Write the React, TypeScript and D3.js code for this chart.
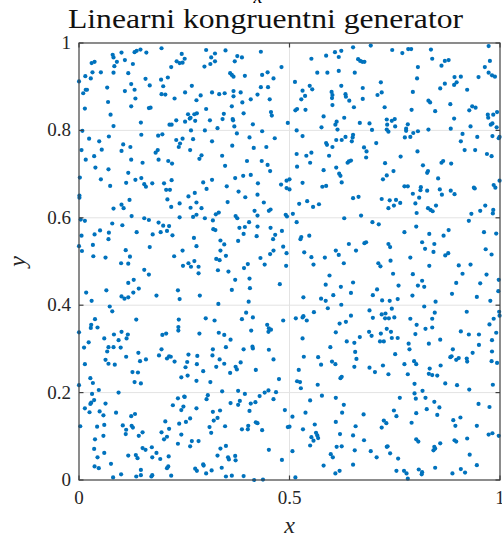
import React, { useEffect, useRef } from 'react';
import * as d3 from 'd3';

const W = 502;
const H = 539;
const margin = { top: 43, right: 2, bottom: 59, left: 79 };

const xTicks = [0, 0.5, 1];
const yTicks = [0, 0.2, 0.4, 0.6, 0.8, 1];
const titleText = 'Linearni kongruentni generator';
const xLabel = 'x';
const yLabel = 'y';

// points, upper third (y > ~0.67)
const upperPoints: [number, number][] = [
  [0.080,0.973],[0.082,0.967],[0.101,0.978],[0.132,0.979],[0.137,0.982],[0.146,0.985],[0.160,0.978],[0.196,0.988],[0.244,0.975],
  [0.030,0.954],[0.037,0.957],[0.090,0.957],[0.109,0.961],[0.084,0.947],[0.128,0.952],[0.232,0.958],[0.239,0.954],[0.246,0.955],
  [0.251,0.964],[0.219,0.945],[0.032,0.933],[0.052,0.933],[0.082,0.932],[0.117,0.931],[0.015,0.924],[0.028,0.919],[0.000,0.912],
  [0.158,0.918],[0.195,0.916],[0.211,0.921],[0.124,0.906],[0.168,0.903],[0.200,0.901],[0.067,0.898],[0.016,0.893],[0.019,0.893],
  [0.109,0.890],[0.132,0.893],[0.010,0.885],[0.196,0.883],[0.205,0.882],[0.252,0.887],[0.134,0.873],[0.227,0.873],[0.069,0.865],
  [0.124,0.855],[0.014,0.850],[0.166,0.851],[0.170,0.852],[0.075,0.836],[0.231,0.823],[0.252,0.820],[0.147,0.818],[0.215,0.813],
  [0.220,0.813],[0.082,0.810],[0.008,0.799],[0.071,0.786],[0.148,0.790],[0.188,0.788],[0.198,0.791],[0.024,0.781],[0.048,0.775],
  [0.231,0.778],[0.246,0.781],[0.240,0.770],[0.237,0.762],[0.105,0.768],[0.122,0.762],[0.006,0.755],[0.054,0.756],[0.101,0.753],
  [0.187,0.755],[0.182,0.749],[0.036,0.741],[0.016,0.733],[0.124,0.733],[0.189,0.733],[0.151,0.726],[0.212,0.730],[0.221,0.724],
  [0.039,0.715],[0.070,0.711],[0.117,0.703],[0.002,0.692],[0.052,0.688],[0.148,0.691],[0.134,0.687],[0.220,0.686],[0.112,0.680],
  [0.155,0.677],[0.174,0.679],[0.202,0.679],[0.074,0.673],[0.159,0.671],
  [0.302,0.984],[0.348,0.983],[0.323,0.976],[0.314,0.967],[0.376,0.970],[0.387,0.967],[0.432,0.980],[0.323,0.958],[0.312,0.952],
  [0.370,0.958],[0.298,0.946],[0.481,0.945],[0.359,0.931],[0.363,0.927],[0.367,0.923],[0.394,0.925],[0.435,0.927],[0.448,0.933],
  [0.462,0.919],[0.268,0.902],[0.432,0.899],[0.449,0.899],[0.316,0.887],[0.333,0.883],[0.346,0.885],[0.367,0.890],[0.367,0.878],
  [0.384,0.887],[0.289,0.880],[0.279,0.869],[0.408,0.871],[0.388,0.864],[0.453,0.871],[0.424,0.882],[0.363,0.855],[0.302,0.849],
  [0.456,0.842],[0.458,0.834],[0.259,0.837],[0.263,0.827],[0.265,0.829],[0.274,0.837],[0.280,0.839],[0.276,0.822],[0.344,0.838],
  [0.341,0.826],[0.365,0.826],[0.366,0.823],[0.391,0.839],[0.413,0.814],[0.311,0.823],[0.369,0.809],[0.329,0.805],[0.299,0.800],
  [0.266,0.800],[0.435,0.798],[0.496,0.817],[0.375,0.793],[0.271,0.780],[0.316,0.775],[0.405,0.784],[0.465,0.782],[0.364,0.765],
  [0.415,0.760],[0.445,0.762],[0.264,0.755],[0.291,0.743],[0.286,0.735],[0.340,0.742],[0.347,0.719],[0.399,0.730],[0.434,0.730],
  [0.448,0.721],[0.454,0.707],[0.371,0.691],[0.390,0.696],[0.408,0.698],[0.316,0.687],[0.295,0.681],[0.425,0.679],[0.351,0.672],
  [0.480,0.676],[0.493,0.685],[0.500,0.688],
  [0.651,0.990],[0.693,0.994],[0.744,0.984],[0.608,0.979],[0.623,0.982],[0.587,0.971],[0.617,0.968],[0.552,0.964],[0.663,0.963],
  [0.668,0.959],[0.673,0.957],[0.678,0.957],[0.566,0.932],[0.590,0.932],[0.617,0.936],[0.655,0.932],[0.513,0.911],[0.717,0.910],
  [0.548,0.902],[0.554,0.894],[0.623,0.902],[0.531,0.891],[0.600,0.888],[0.602,0.881],[0.633,0.883],[0.634,0.877],[0.674,0.897],
  [0.719,0.887],[0.709,0.881],[0.537,0.879],[0.528,0.871],[0.601,0.874],[0.642,0.868],[0.674,0.872],[0.518,0.849],[0.514,0.846],
  [0.538,0.847],[0.602,0.858],[0.653,0.853],[0.726,0.853],[0.581,0.832],[0.630,0.829],[0.731,0.825],[0.743,0.822],[0.750,0.826],
  [0.612,0.820],[0.609,0.813],[0.667,0.817],[0.690,0.816],[0.732,0.813],[0.751,0.809],[0.576,0.807],[0.614,0.802],[0.696,0.801],
  [0.731,0.802],[0.735,0.797],[0.517,0.800],[0.531,0.787],[0.651,0.790],[0.650,0.784],[0.648,0.775],[0.633,0.785],[0.624,0.778],
  [0.611,0.778],[0.587,0.771],[0.589,0.767],[0.602,0.762],[0.677,0.761],[0.683,0.752],[0.706,0.771],[0.682,0.738],[0.517,0.746],
  [0.540,0.742],[0.552,0.749],[0.594,0.742],[0.638,0.726],[0.641,0.729],[0.646,0.731],[0.549,0.726],[0.611,0.715],[0.727,0.725],
  [0.518,0.717],[0.581,0.709],[0.618,0.701],[0.621,0.696],[0.747,0.707],[0.731,0.697],[0.722,0.688],[0.624,0.681],[0.531,0.680],
  [0.578,0.671],[0.587,0.673],
  [0.973,0.993],[0.768,0.977],[0.782,0.986],[0.789,0.986],[0.836,0.985],[0.839,0.964],[0.869,0.959],[0.878,0.961],[0.861,0.948],
  [0.805,0.945],[0.976,0.959],[0.964,0.945],[0.973,0.932],[0.981,0.926],[0.988,0.923],[0.803,0.919],[0.892,0.922],[0.907,0.923],
  [0.949,0.922],[0.869,0.907],[0.891,0.904],[0.897,0.910],[0.858,0.896],[0.922,0.893],[0.793,0.888],[0.830,0.868],[0.834,0.864],
  [0.882,0.860],[0.934,0.855],[0.942,0.852],[0.927,0.846],[0.846,0.844],[0.790,0.847],[0.993,0.842],[0.971,0.836],[0.972,0.829],
  [0.984,0.836],[0.891,0.827],[0.781,0.814],[0.982,0.816],[0.978,0.813],[0.777,0.804],[0.777,0.799],[0.830,0.802],[0.883,0.804],
  [0.930,0.809],[0.992,0.807],[0.805,0.798],[0.794,0.794],[0.911,0.792],[0.774,0.784],[0.787,0.785],[0.946,0.785],[0.982,0.787],
  [0.997,0.782],[0.999,0.785],[0.907,0.775],[0.916,0.755],[0.941,0.755],[0.804,0.752],[0.764,0.740],[0.969,0.746],[0.980,0.741],
  [0.861,0.726],[0.865,0.730],[0.884,0.724],[0.817,0.720],[0.829,0.707],[0.827,0.703],[0.853,0.690],[0.999,0.685],[0.773,0.672],
  [0.781,0.672],[0.812,0.670],[0.938,0.669],[0.985,0.675],[0.989,0.669],
];

// middle third (~0.33 < y < ~0.67)
const middlePoints: [number, number][] = [
  [0.001,0.651],[0.001,0.646],[0.207,0.664],[0.216,0.664],[0.210,0.642],[0.120,0.641],[0.101,0.630],[0.106,0.622],[0.082,0.621],
  [0.239,0.633],[0.219,0.625],[0.125,0.604],[0.004,0.596],[0.014,0.593],[0.155,0.599],[0.166,0.595],[0.239,0.601],[0.079,0.587],
  [0.103,0.583],[0.189,0.589],[0.200,0.582],[0.214,0.581],[0.209,0.570],[0.194,0.567],[0.050,0.571],[0.037,0.562],[0.071,0.566],
  [0.137,0.567],[0.175,0.562],[0.006,0.559],[0.222,0.560],[0.070,0.551],[0.000,0.535],[0.033,0.538],[0.168,0.533],[0.111,0.526],
  [0.007,0.524],[0.246,0.525],[0.034,0.512],[0.063,0.509],[0.121,0.511],[0.226,0.512],[0.100,0.496],[0.117,0.495],[0.247,0.490],
  [0.155,0.481],[0.166,0.470],[0.130,0.458],[0.117,0.451],[0.065,0.434],[0.142,0.438],[0.129,0.429],[0.017,0.429],[0.235,0.434],
  [0.101,0.420],[0.108,0.415],[0.117,0.418],[0.184,0.422],[0.239,0.414],[0.030,0.410],[0.073,0.397],[0.079,0.386],[0.038,0.368],
  [0.136,0.367],[0.237,0.367],[0.029,0.355],[0.028,0.348],[0.044,0.349],[0.236,0.350],[0.236,0.342],[0.000,0.338],[0.101,0.339],
  [0.083,0.333],[0.116,0.333],[0.198,0.332],[0.207,0.335],
  [0.303,0.666],[0.379,0.660],[0.395,0.647],[0.424,0.653],[0.260,0.649],[0.275,0.657],[0.279,0.635],[0.265,0.623],[0.291,0.622],
  [0.353,0.636],[0.417,0.616],[0.439,0.635],[0.451,0.616],[0.455,0.619],[0.493,0.668],[0.500,0.665],[0.271,0.602],[0.279,0.607],
  [0.299,0.599],[0.325,0.608],[0.332,0.612],[0.318,0.594],[0.372,0.604],[0.376,0.599],[0.424,0.605],[0.491,0.607],[0.494,0.603],
  [0.319,0.574],[0.324,0.572],[0.381,0.577],[0.394,0.579],[0.404,0.590],[0.424,0.580],[0.455,0.577],[0.482,0.570],[0.391,0.563],
  [0.422,0.558],[0.466,0.561],[0.461,0.551],[0.273,0.554],[0.336,0.548],[0.345,0.539],[0.378,0.547],[0.279,0.535],[0.336,0.525],
  [0.349,0.513],[0.485,0.534],[0.493,0.519],[0.462,0.525],[0.454,0.517],[0.431,0.508],[0.441,0.493],[0.401,0.494],[0.392,0.485],
  [0.326,0.506],[0.334,0.503],[0.274,0.501],[0.260,0.496],[0.266,0.488],[0.284,0.488],[0.284,0.473],[0.330,0.480],[0.355,0.477],
  [0.405,0.461],[0.371,0.458],[0.492,0.490],[0.477,0.448],[0.363,0.435],[0.406,0.439],[0.287,0.422],[0.331,0.403],[0.403,0.408],
  [0.397,0.383],[0.413,0.372],[0.387,0.368],[0.301,0.370],[0.322,0.365],[0.485,0.365],[0.447,0.355],[0.451,0.347],[0.456,0.344],
  [0.450,0.339],[0.409,0.342],[0.332,0.337],[0.286,0.335],[0.345,0.332],
  [0.651,0.645],[0.664,0.648],[0.719,0.643],[0.738,0.640],[0.753,0.641],[0.735,0.622],[0.748,0.628],[0.523,0.632],[0.542,0.638],
  [0.556,0.625],[0.570,0.631],[0.508,0.609],[0.517,0.590],[0.630,0.599],[0.670,0.605],[0.697,0.590],[0.712,0.585],[0.547,0.559],
  [0.528,0.556],[0.526,0.551],[0.641,0.540],[0.678,0.542],[0.682,0.544],[0.735,0.540],[0.739,0.533],[0.610,0.525],[0.658,0.525],
  [0.617,0.515],[0.535,0.521],[0.552,0.510],[0.584,0.509],[0.557,0.493],[0.629,0.496],[0.711,0.496],[0.716,0.489],[0.740,0.502],
  [0.595,0.468],[0.746,0.472],[0.586,0.447],[0.622,0.442],[0.651,0.452],[0.646,0.428],[0.698,0.423],[0.708,0.436],[0.604,0.423],
  [0.533,0.418],[0.575,0.415],[0.586,0.410],[0.623,0.401],[0.720,0.411],[0.738,0.410],[0.591,0.393],[0.690,0.388],[0.558,0.384],
  [0.743,0.392],[0.515,0.370],[0.533,0.375],[0.531,0.372],[0.541,0.365],[0.646,0.376],[0.634,0.362],[0.619,0.358],[0.698,0.371],
  [0.719,0.379],[0.728,0.381],[0.727,0.370],[0.736,0.370],[0.749,0.372],[0.610,0.338],[0.689,0.339],[0.717,0.335],[0.731,0.346],
  [0.741,0.339],
  [0.811,0.663],[0.827,0.662],[0.857,0.665],[0.862,0.653],[0.883,0.662],[0.892,0.654],[0.940,0.667],[0.763,0.634],[0.793,0.655],
  [0.799,0.633],[0.808,0.646],[0.829,0.622],[0.835,0.618],[0.840,0.615],[0.848,0.628],[0.802,0.611],[0.953,0.616],[0.965,0.628],
  [0.984,0.618],[0.983,0.610],[0.932,0.609],[0.926,0.593],[0.801,0.580],[0.773,0.567],[0.832,0.563],[0.866,0.559],[0.878,0.572],
  [0.962,0.567],[0.991,0.564],[0.815,0.544],[0.844,0.540],[0.822,0.529],[0.842,0.522],[0.870,0.514],[0.877,0.519],[0.966,0.528],
  [0.980,0.516],[0.787,0.509],[0.832,0.490],[0.902,0.491],[0.930,0.493],[0.793,0.471],[0.911,0.472],[0.968,0.470],[0.815,0.456],
  [0.805,0.445],[0.820,0.442],[0.759,0.445],[0.896,0.451],[0.953,0.450],[0.997,0.458],[0.996,0.432],[0.886,0.426],[0.792,0.422],
  [0.945,0.419],[0.757,0.414],[0.847,0.408],[0.977,0.410],[0.820,0.397],[0.845,0.383],[0.921,0.385],[0.998,0.385],[0.999,0.376],
  [0.787,0.369],[0.839,0.369],[0.985,0.369],[0.802,0.355],[0.823,0.346],[0.839,0.349],[0.907,0.340],[0.975,0.356],[0.991,0.337],
  [0.926,0.333],[0.950,0.333],[0.799,0.334],
];

// lower third (y < ~0.33)
const lowerPoints: [number, number][] = [
  [0.023,0.315],[0.012,0.303],[0.060,0.324],[0.094,0.320],[0.113,0.324],[0.070,0.304],[0.067,0.294],[0.082,0.304],[0.099,0.303],
  [0.112,0.282],[0.141,0.291],[0.145,0.272],[0.159,0.276],[0.063,0.275],[0.070,0.266],[0.085,0.264],[0.014,0.265],[0.190,0.285],
  [0.196,0.299],[0.209,0.278],[0.214,0.283],[0.218,0.282],[0.227,0.271],[0.000,0.217],[0.027,0.233],[0.033,0.222],[0.127,0.247],
  [0.140,0.246],[0.132,0.224],[0.147,0.221],[0.243,0.235],[0.047,0.206],[0.094,0.200],[0.031,0.197],[0.036,0.183],[0.029,0.177],
  [0.027,0.174],[0.063,0.175],[0.014,0.164],[0.025,0.155],[0.049,0.157],[0.058,0.148],[0.088,0.154],[0.124,0.146],[0.133,0.151],
  [0.235,0.187],[0.250,0.191],[0.248,0.168],[0.243,0.160],[0.223,0.171],[0.003,0.123],[0.043,0.122],[0.060,0.126],[0.104,0.125],
  [0.125,0.124],[0.128,0.120],[0.112,0.115],[0.111,0.105],[0.151,0.109],[0.142,0.101],[0.205,0.134],[0.214,0.117],[0.196,0.109],
  [0.209,0.099],[0.202,0.093],[0.243,0.104],[0.235,0.083],[0.238,0.129],[0.038,0.093],[0.058,0.101],[0.036,0.071],[0.060,0.062],
  [0.044,0.052],[0.117,0.056],[0.135,0.057],[0.139,0.050],[0.151,0.073],[0.158,0.069],[0.173,0.075],[0.184,0.062],[0.174,0.052],
  [0.193,0.048],[0.213,0.054],[0.037,0.031],[0.047,0.027],[0.076,0.037],[0.147,0.023],[0.147,0.011],[0.136,0.008],[0.174,0.011],
  [0.172,0.008],[0.209,0.027],[0.212,0.031],[0.219,0.010],[0.081,0.006],[0.100,0.013],
  [0.360,0.321],[0.349,0.304],[0.391,0.299],[0.412,0.305],[0.413,0.301],[0.451,0.298],[0.318,0.299],[0.317,0.285],[0.260,0.287],
  [0.281,0.284],[0.257,0.270],[0.280,0.265],[0.253,0.258],[0.258,0.239],[0.334,0.276],[0.345,0.266],[0.326,0.259],[0.295,0.249],
  [0.372,0.259],[0.375,0.253],[0.384,0.269],[0.359,0.245],[0.462,0.276],[0.420,0.252],[0.475,0.231],[0.279,0.227],[0.312,0.224],
  [0.251,0.190],[0.306,0.194],[0.303,0.185],[0.340,0.203],[0.378,0.204],[0.394,0.197],[0.429,0.192],[0.441,0.200],[0.450,0.205],
  [0.468,0.201],[0.462,0.185],[0.360,0.176],[0.378,0.172],[0.382,0.181],[0.408,0.175],[0.419,0.178],[0.405,0.158],[0.279,0.164],
  [0.318,0.156],[0.335,0.159],[0.489,0.160],[0.254,0.133],[0.264,0.141],[0.320,0.136],[0.329,0.142],[0.310,0.121],[0.347,0.123],
  [0.314,0.108],[0.387,0.116],[0.401,0.116],[0.402,0.124],[0.420,0.132],[0.424,0.130],[0.435,0.114],[0.500,0.122],[0.496,0.121],
  [0.268,0.089],[0.284,0.089],[0.264,0.077],[0.336,0.072],[0.349,0.078],[0.354,0.052],[0.356,0.047],[0.371,0.055],[0.372,0.045],
  [0.451,0.069],[0.482,0.046],[0.329,0.056],[0.295,0.036],[0.296,0.033],[0.276,0.026],[0.280,0.021],[0.315,0.022],[0.339,0.028],
  [0.302,0.015],[0.349,0.008],[0.363,0.010],[0.391,0.009],[0.416,0.000],[0.437,0.001],
  [0.531,0.324],[0.636,0.317],[0.654,0.314],[0.667,0.327],[0.695,0.330],[0.715,0.317],[0.724,0.317],[0.743,0.325],[0.757,0.325],
  [0.597,0.304],[0.656,0.293],[0.751,0.288],[0.534,0.282],[0.568,0.281],[0.575,0.264],[0.601,0.271],[0.609,0.265],[0.659,0.277],
  [0.654,0.259],[0.690,0.257],[0.703,0.247],[0.722,0.262],[0.735,0.242],[0.522,0.252],[0.518,0.226],[0.525,0.224],[0.527,0.210],
  [0.567,0.218],[0.621,0.233],[0.624,0.236],[0.577,0.193],[0.549,0.182],[0.610,0.188],[0.629,0.172],[0.625,0.154],[0.538,0.154],
  [0.507,0.145],[0.532,0.116],[0.560,0.127],[0.563,0.108],[0.566,0.102],[0.568,0.096],[0.552,0.098],[0.557,0.090],[0.549,0.079],
  [0.610,0.133],[0.620,0.105],[0.651,0.102],[0.657,0.123],[0.677,0.091],[0.676,0.150],[0.719,0.120],[0.724,0.136],[0.730,0.130],
  [0.748,0.159],[0.754,0.146],[0.612,0.076],[0.624,0.077],[0.655,0.068],[0.693,0.066],[0.707,0.052],[0.731,0.076],[0.733,0.077],
  [0.739,0.061],[0.507,0.066],[0.598,0.059],[0.603,0.052],[0.581,0.033],[0.651,0.035],[0.619,0.021],[0.609,0.015],[0.514,0.006],
  [0.754,0.021],
  [0.981,0.320],[0.783,0.312],[0.785,0.299],[0.831,0.312],[0.858,0.321],[0.888,0.299],[0.882,0.281],[0.885,0.283],[0.896,0.275],
  [0.902,0.279],[0.921,0.278],[0.922,0.271],[0.935,0.291],[0.950,0.309],[0.981,0.294],[0.980,0.272],[0.993,0.268],[0.773,0.265],
  [0.796,0.272],[0.801,0.265],[0.833,0.255],[0.859,0.262],[0.781,0.242],[0.831,0.243],[0.839,0.240],[0.851,0.239],[0.870,0.221],
  [0.898,0.217],[0.927,0.207],[0.983,0.218],[0.797,0.220],[0.797,0.198],[0.816,0.204],[0.762,0.188],[0.800,0.186],[0.823,0.188],
  [0.844,0.179],[0.856,0.166],[0.826,0.162],[0.801,0.153],[0.851,0.149],[0.790,0.131],[0.889,0.137],[0.906,0.143],[0.894,0.124],
  [0.949,0.174],[0.975,0.167],[0.945,0.124],[0.973,0.104],[0.982,0.107],[0.997,0.101],[0.922,0.095],[0.801,0.093],[0.806,0.088],
  [0.858,0.084],[0.892,0.091],[0.896,0.088],[0.844,0.076],[0.846,0.072],[0.842,0.068],[0.928,0.058],[0.945,0.034],[0.758,0.049],
  [0.846,0.028],[0.807,0.024],[0.815,0.018],[0.814,0.013],[0.772,0.021],[0.778,0.015],[0.781,0.003],[0.907,0.025],[0.917,0.017],
  [0.887,0.015],
];

const allPoints = [...upperPoints, ...middlePoints, ...lowerPoints];

const FONT = "'Liberation Serif', 'DejaVu Serif', serif";
const AXIS = '#404040';

const App: React.FC = () => {
  const svgRef = useRef<SVGSVGElement>(null);

  useEffect(() => {
    if (!svgRef.current) return;
    document.body.style.margin = '0';
    const svg = d3.select(svgRef.current);
    svg.selectAll('*').remove();

    const x = d3.scaleLinear().domain([0, 1]).range([margin.left, W - margin.right]);
    const y = d3.scaleLinear().domain([0, 1]).range([H - margin.bottom, margin.top]);

    svg.append('rect').attr('width', W).attr('height', H).attr('fill', '#fff');

    // grid
    const grid = svg.append('g').attr('stroke', '#e3e3e3').attr('stroke-width', 1);
    xTicks.slice(1, -1).forEach(t => {
      grid.append('line').attr('x1', x(t)).attr('x2', x(t)).attr('y1', y(0)).attr('y2', y(1));
    });
    yTicks.slice(1, -1).forEach(t => {
      grid.append('line').attr('x1', x(0)).attr('x2', x(1)).attr('y1', y(t)).attr('y2', y(t));
    });

    // points
    svg.append('g')
      .selectAll('circle')
      .data(allPoints)
      .join('circle')
      .attr('cx', d => x(d[0]))
      .attr('cy', d => y(d[1]))
      .attr('r', 2.1)
      .attr('fill', '#0072BD');

    // box
    svg.append('rect')
      .attr('x', x(0)).attr('y', y(1))
      .attr('width', x(1) - x(0)).attr('height', y(0) - y(1))
      .attr('fill', 'none').attr('stroke', AXIS).attr('stroke-width', 1.2);

    // ticks (inward, on all four sides)
    const tk = svg.append('g').attr('stroke', AXIS).attr('stroke-width', 1.2);
    const len = 4.5;
    xTicks.forEach(t => {
      tk.append('line').attr('x1', x(t)).attr('x2', x(t)).attr('y1', y(0)).attr('y2', y(0) - len);
      tk.append('line').attr('x1', x(t)).attr('x2', x(t)).attr('y1', y(1)).attr('y2', y(1) + len);
    });
    yTicks.forEach(t => {
      tk.append('line').attr('x1', x(0)).attr('x2', x(0) + len).attr('y1', y(t)).attr('y2', y(t));
      tk.append('line').attr('x1', x(1)).attr('x2', x(1) - len).attr('y1', y(t)).attr('y2', y(t));
    });

    const fmt = (v: number) => String(v);

    svg.append('g')
      .selectAll('text')
      .data(xTicks)
      .join('text')
      .attr('x', d => x(d))
      .attr('y', y(0) + 24)
      .attr('text-anchor', 'middle')
      .attr('font-family', FONT)
      .attr('font-size', 19)
      .attr('fill', '#262626')
      .text(fmt);

    svg.append('g')
      .selectAll('text')
      .data(yTicks)
      .join('text')
      .attr('x', x(0) - 8)
      .attr('y', d => y(d) + 6)
      .attr('text-anchor', 'end')
      .attr('font-family', FONT)
      .attr('font-size', 19)
      .attr('fill', '#262626')
      .text(fmt);

    svg.append('text')
      .attr('x', (x(0) + x(1)) / 2)
      .attr('y', H - 6)
      .attr('text-anchor', 'middle')
      .attr('font-family', FONT)
      .attr('font-style', 'italic')
      .attr('font-size', 24)
      .attr('fill', '#262626')
      .text(xLabel);

    svg.append('text')
      .attr('transform', `translate(25,${(y(0) + y(1)) / 2}) rotate(-90)`)
      .attr('text-anchor', 'middle')
      .attr('font-family', FONT)
      .attr('font-style', 'italic')
      .attr('font-size', 24)
      .attr('fill', '#262626')
      .text(yLabel);

    // first title line is cut off by the top edge
    svg.append('text')
      .attr('x', 258)
      .attr('y', 3)
      .attr('text-anchor', 'middle')
      .attr('font-family', FONT)
      .attr('font-style', 'italic')
      .attr('font-size', 20)
      .attr('fill', '#000')
      .text('x');

    svg.append('text')
      .attr('x', 68)
      .attr('y', 28)
      .attr('textLength', 395)
      .attr('lengthAdjust', 'spacingAndGlyphs')
      .attr('font-family', FONT)
      .attr('font-size', 27)
      .attr('fill', '#111')
      .text(titleText);
  }, []);

  return <svg ref={svgRef} width={W} height={H} style={{ display: 'block' }} />;
};

export default App;
